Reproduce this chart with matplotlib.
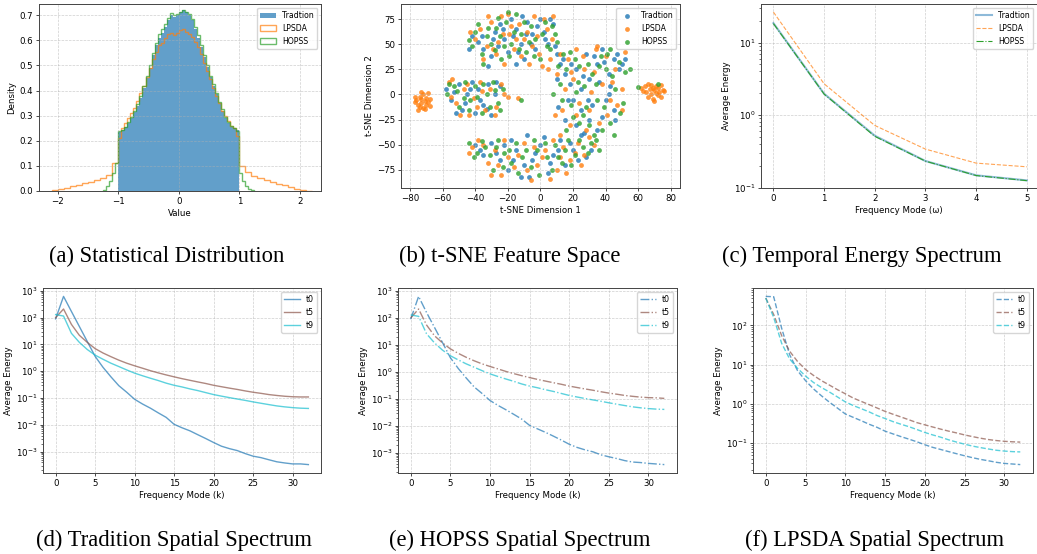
import numpy as np
import matplotlib
matplotlib.use("Agg")
from matplotlib import pyplot as plt
from matplotlib.patches import Patch

# ---- (a) histogram densities ----
core_edges = np.round(np.arange(-1.0, 1.0001, 0.05), 3)
trad_core = [0.235, 0.245, 0.255, 0.27, 0.29, 0.315, 0.34, 0.37, 0.41, 0.45,
             0.49, 0.54, 0.58, 0.61, 0.63, 0.655, 0.68, 0.70, 0.695, 0.70,
             0.715, 0.72, 0.715, 0.70, 0.68, 0.645, 0.61, 0.575, 0.535, 0.495,
             0.455, 0.42, 0.385, 0.35, 0.32, 0.29, 0.27, 0.255, 0.25, 0.245]
hopss_core = [0.24, 0.245, 0.255, 0.275, 0.295, 0.32, 0.345, 0.38, 0.42, 0.46,
              0.50, 0.55, 0.59, 0.625, 0.645, 0.665, 0.69, 0.71, 0.70, 0.705,
              0.715, 0.72, 0.715, 0.705, 0.685, 0.655, 0.62, 0.58, 0.54, 0.50,
              0.46, 0.425, 0.39, 0.355, 0.325, 0.295, 0.275, 0.26, 0.25, 0.24]
hopss_left = [0.005, 0.02, 0.04, 0.07, 0.11]
hopss_right = [0.07, 0.04, 0.02, 0.008, 0.002]
lpsda_core = [0.21, 0.25, 0.27, 0.29, 0.31, 0.33, 0.36, 0.39, 0.42, 0.455,
              0.49, 0.525, 0.555, 0.58, 0.59, 0.61, 0.625, 0.63, 0.62, 0.63,
              0.64, 0.645, 0.635, 0.625, 0.615, 0.595, 0.575, 0.545, 0.51, 0.48,
              0.445, 0.41, 0.38, 0.35, 0.32, 0.30, 0.28, 0.26, 0.25, 0.22]
lpsda_left = [0.003, 0.008, 0.013, 0.018, 0.024, 0.03, 0.037, 0.045, 0.053, 0.065, 0.11]
lpsda_right = [0.10, 0.075, 0.06, 0.05, 0.043, 0.035, 0.028, 0.022, 0.015, 0.009, 0.004, 0.001]

# ---- (b) t-SNE points ----
tsne_trad = [(-42, 58), (-38, 52), (-35, 45), (-30, 38), (-28, 62), (-25, 70), (-22, 55), (-20, 42),
             (-18, 75), (-15, 65), (-12, 50), (-10, 35), (-8, 72), (-5, 60), (-3, 45), (0, 75), (2, 62),
             (5, 50), (8, 70), (10, 40), (-32, 28), (-15, 30),
             (-44, 45), (-36, 58), (-26, 48), (-23, 65), (-17, 58), (-11, 78), (-6, 50), (-2, 68),
             (3, 55), (6, 75), (9, 48), (-14, 42), (-29, 55), (-9, 60),
             (12, 30), (15, 20), (18, 10), (22, 25), (25, 5), (28, 40), (30, 15), (35, 30), (38, 45),
             (42, 20), (45, 35), (48, 25), (20, -5), (25, -15), (32, -10), (40, -5), (45, -15),
             (15, -25), (22, -30), (30, -25), (35, -35), (42, 0), (50, 30),
             (14, 35), (17, -5), (19, 30), (26, 18), (29, -5), (33, 38), (36, 12), (39, 32), (43, 8),
             (47, 40), (52, 35), (11, -12), (27, -38), (38, -22), (46, -25), (10, 15),
             (-58, 5), (-55, -5), (-50, 10), (-48, -15), (-45, 0), (-42, 12), (-40, -18), (-38, 5),
             (-35, -10), (-32, 10), (-30, -20), (-28, 0), (-25, 8),
             (-53, 2), (-46, -8), (-43, 5), (-37, -5), (-33, -14), (-27, 12), (-52, -18),
             (-40, -50), (-35, -60), (-30, -48), (-25, -65), (-20, -75), (-15, -55), (-12, -82),
             (-8, -40), (-5, -65), (0, -50), (5, -78), (8, -60), (12, -45), (15, -70), (20, -55),
             (25, -40), (28, -62), (-18, -45),
             (-37, -55), (-27, -58), (-22, -50), (-17, -65), (-10, -70), (-3, -58), (2, -42),
             (6, -68), (11, -55), (18, -48), (23, -65), (31, -55), (-7, -82)]
tsne_lpsda = [(-76, -5), (-75, -10), (-74, -2), (-73, -8), (-72, -13), (-72, 0), (-71, -6), (-70, -3),
              (-70, -10), (-69, -7), (-69, 1), (-68, -4), (-74, -12), (-77, -7), (-71, -14), (-73, 2),
              (-75, -15), (-77, -2), (-68, -11), (-73, -4),
              (62, 6), (64, 8), (65, 2), (66, -2), (67, 5), (68, 9), (68, 0), (69, -4), (70, 4),
              (71, 8), (72, -1), (72, 6), (73, 2), (74, 9), (75, 4), (76, 3), (66, 10), (70, -6),
              (63, 3), (69, 6), (71, 1), (74, -2),
              (-40, 55), (-37, 65), (-33, 48), (-30, 72), (-27, 40), (-24, 78), (-22, 30), (-19, 60),
              (-16, 45), (-13, 70), (-10, 55), (-7, 30), (-4, 78), (-1, 40), (1, 28), (4, 65), (7, 55),
              (-26, 52), (-20, 80),
              (-43, 62), (-35, 35), (-29, 45), (-23, 60), (-18, 68), (-12, 38), (-8, 62), (-5, 48),
              (-2, 58), (2, 75), (6, 35), (8, 78), (-32, 78), (-15, 55),
              (10, 20), (13, -15), (17, 35), (20, 15), (24, -8), (27, 25), (31, 2), (34, 45), (38, 10),
              (41, -20), (44, 12), (47, -10), (50, -15), (52, 42), (18, -30), (28, -35), (9, -20),
              (5, 25), (-14, -3),
              (12, 40), (15, 5), (19, 22), (22, -20), (26, 38), (30, -15), (33, 22), (36, -28),
              (40, 38), (43, -5), (46, 25), (50, 5), (22, 45), (12, -40), (35, 48),
              (-56, 12), (-54, 15), (-52, -8), (-47, 5), (-44, -20), (-41, -3), (-37, 12), (-34, -15),
              (-31, 5), (-27, -12), (-24, 10), (-20, -2),
              (-55, -2), (-49, -20), (-45, 10), (-39, -12), (-36, 3), (-28, -20), (-22, 0),
              (-42, -52), (-38, -45), (-32, -68), (-28, -55), (-24, -80), (-20, -62), (-16, -72),
              (-10, -48), (-6, -85), (-2, -70), (3, -55), (6, -84), (10, -75), (14, -52), (18, -65),
              (23, -48), (27, -60), (30, -42),
              (-44, -58), (-35, -50), (-30, -80), (-26, -70), (-22, -45), (-14, -60), (-8, -75),
              (-4, -52), (1, -62), (8, -45), (12, -62), (16, -78), (21, -58), (25, -70), (33, -50)]
tsne_hopss = [(-44, 54), (-40, 62), (-36, 40), (-33, 58), (-30, 50), (-27, 66), (-24, 35), (-21, 72),
              (-18, 50), (-15, 80), (-12, 60), (-9, 42), (-6, 68), (-3, 55), (0, 35), (3, 72), (6, 45),
              (9, 60), (-20, 82), (-35, 30),
              (-42, 48), (-38, 70), (-32, 66), (-28, 44), (-25, 58), (-22, 48), (-16, 62), (-13, 45),
              (-10, 72), (-7, 52), (-4, 38), (1, 60), (4, 48), (7, 68), (10, 52), (-19, 38), (-26, 76),
              (12, 10), (14, 40), (16, 25), (19, -10), (21, 35), (23, 12), (26, -20), (29, 30), (32, 20),
              (35, -5), (37, 38), (40, 25), (43, 45), (46, 5), (49, -18), (52, 22), (55, 25), (16, -35),
              (24, -28), (33, -40), (43, -28), (8, 0),
              (11, 28), (13, -5), (18, 42), (22, 2), (24, 28), (27, 8), (30, -30), (34, 10), (36, 28),
              (39, -12), (41, 40), (44, 18), (48, 32), (51, -8), (20, -22), (28, -12), (38, -35),
              (45, -40),
              (-57, 0), (-53, 8), (-50, -12), (-46, 12), (-43, -5), (-40, 8), (-36, -18), (-33, 0),
              (-29, 12), (-26, -8), (-23, 5), (-12, -5),
              (-56, 10), (-51, 3), (-47, -3), (-44, -15), (-39, -2), (-35, 10), (-31, -12), (-28, 4),
              (-25, -15),
              (-44, -48), (-39, -58), (-34, -52), (-29, -75), (-26, -45), (-22, -58), (-18, -68),
              (-14, -78), (-9, -55), (-4, -45), (-1, -80), (4, -62), (9, -50), (13, -68), (17, -45),
              (21, -60), (26, -52), (31, -48), (36, -55),
              (-41, -62), (-36, -46), (-31, -60), (-27, -52), (-23, -72), (-19, -55), (-15, -48),
              (-11, -62), (-6, -72), (-2, -55), (3, -48), (7, -75), (11, -62), (15, -55), (19, -70),
              (24, -45), (29, -58), (34, -45),
              (60, 7), (72, 10)]

# ---- (c) temporal spectrum ----
omega = [0, 1, 2, 3, 4, 5]
temp_trad = [18.5, 1.97, 0.52, 0.233, 0.148, 0.126]
temp_lpsda = [26.3, 2.7, 0.72, 0.34, 0.218, 0.194]
temp_hopss = [18.3, 1.95, 0.51, 0.232, 0.147, 0.125]

# ---- (d)(e)(f) spatial spectra, k = 0..32 ----
k_modes = list(range(33))
trad_t0 = [90, 620, 170, 47, 13, 3.6, 1.4, 0.62, 0.29, 0.165, 0.09, 0.06, 0.042, 0.028, 0.019,
           0.0105, 0.0078, 0.006, 0.0043, 0.0031, 0.0022, 0.0016, 0.0013, 0.0011, 0.00085,
           0.00068, 0.0006, 0.0005, 0.00042, 0.00038, 0.00035, 0.00035, 0.00033]
trad_t5 = [100, 210, 56, 22, 12, 7, 4.8, 3.5, 2.6, 2.0, 1.6, 1.3, 1.05, 0.87, 0.73, 0.62, 0.53,
           0.46, 0.40, 0.35, 0.30, 0.265, 0.235, 0.21, 0.185, 0.165, 0.15, 0.135, 0.125, 0.117,
           0.112, 0.11, 0.11]
trad_t9 = [130, 115, 26, 12, 6.5, 4.0, 2.8, 2.0, 1.5, 1.12, 0.85, 0.68, 0.55, 0.45, 0.36, 0.30,
           0.26, 0.22, 0.19, 0.16, 0.135, 0.118, 0.104, 0.092, 0.082, 0.072, 0.064, 0.057, 0.051,
           0.047, 0.044, 0.042, 0.041]
hopss_t0 = [90, 630, 160, 45, 12.5, 3.4, 1.35, 0.6, 0.28, 0.16, 0.088, 0.058, 0.04, 0.027, 0.018,
            0.0105, 0.0078, 0.0058, 0.0042, 0.003, 0.0021, 0.0016, 0.0013, 0.0011, 0.00085,
            0.00072, 0.00062, 0.00052, 0.00046, 0.00044, 0.00041, 0.00039, 0.00037]
hopss_t5 = [100, 215, 55, 22, 12, 7.2, 4.9, 3.5, 2.6, 2.0, 1.6, 1.3, 1.05, 0.87, 0.73, 0.62, 0.53,
            0.46, 0.40, 0.35, 0.30, 0.265, 0.235, 0.21, 0.185, 0.165, 0.15, 0.135, 0.125, 0.117,
            0.112, 0.11, 0.105]
hopss_t9 = [130, 115, 26, 12, 6.5, 4.0, 2.8, 2.0, 1.5, 1.12, 0.85, 0.68, 0.55, 0.45, 0.36, 0.30,
            0.26, 0.22, 0.19, 0.16, 0.135, 0.118, 0.104, 0.092, 0.082, 0.072, 0.064, 0.057, 0.051,
            0.047, 0.044, 0.042, 0.041]
lpsda_t0 = [550, 540, 85, 18, 7, 3.9, 2.4, 1.6, 1.1, 0.78, 0.55, 0.45, 0.37, 0.30, 0.25, 0.20,
            0.17, 0.145, 0.125, 0.107, 0.09, 0.077, 0.068, 0.06, 0.053, 0.047, 0.042, 0.038, 0.035,
            0.032, 0.03, 0.029, 0.028]
lpsda_t5 = [500, 190, 55, 22, 12, 7.5, 5.3, 3.9, 3.0, 2.3, 1.8, 1.4, 1.15, 0.95, 0.78, 0.64, 0.54,
            0.46, 0.39, 0.33, 0.29, 0.255, 0.225, 0.2, 0.18, 0.16, 0.145, 0.132, 0.122, 0.115, 0.11,
            0.107, 0.105]
lpsda_t9 = [500, 160, 35, 14, 8, 5.1, 3.5, 2.6, 2.0, 1.5, 1.12, 0.9, 0.75, 0.62, 0.5, 0.42, 0.35,
            0.3, 0.26, 0.22, 0.185, 0.16, 0.14, 0.12, 0.105, 0.093, 0.083, 0.076, 0.07, 0.065, 0.062,
            0.06, 0.059]

methods = ["Tradtion", "LPSDA", "HOPSS"]
time_labels = ["t0", "t5", "t9"]
captions = ["(a) Statistical Distribution", "(b) t-SNE Feature Space", "(c) Temporal Energy Spectrum",
            "(d) Tradition Spatial Spectrum", "(e) HOPSS Spatial Spectrum", "(f) LPSDA Spatial Spectrum"]

plt.rcParams.update({
    "font.size": 6.2,
    "axes.linewidth": 0.7,
    "axes.edgecolor": "#444444",
    "xtick.major.size": 2.2,
    "ytick.major.size": 2.2,
    "xtick.minor.size": 1.2,
    "ytick.minor.size": 1.2,
    "xtick.major.width": 0.5,
    "ytick.major.width": 0.5,
    "ytick.minor.width": 0.4,
    "xtick.major.pad": 2.0,
    "ytick.major.pad": 2.0,
    "axes.labelpad": 2.2,
    "lines.linewidth": 0.8,
    "legend.fontsize": 5.6,
})

W, H = 1037, 554
fig = plt.figure(figsize=(W / 100, H / 100), dpi=100)


def px_axes(x0, y0, x1, y1):
    return fig.add_axes([x0 / W, 1 - y1 / H, (x1 - x0) / W, (y1 - y0) / H])


def style_grid(ax):
    ax.grid(True, linestyle="--", linewidth=0.5, alpha=0.6)


# (a)
ax = px_axes(39, 4, 321, 191)
ax.stairs(trad_core, core_edges, fill=True, color="tab:blue", alpha=0.7)
lp_edges = np.concatenate([np.round(np.arange(-2.1, -0.999, 0.1), 3), core_edges[1:],
                           np.round(np.arange(1.1, 2.2001, 0.1), 3)])
lp_vals = lpsda_left + lpsda_core + lpsda_right
ax.stairs(lp_vals, lp_edges, color="tab:orange", alpha=0.7, linewidth=1.0)
hp_edges = np.concatenate([np.round(np.arange(-1.25, -0.999, 0.05), 3), core_edges[1:],
                           np.round(np.arange(1.05, 1.2501, 0.05), 3)])
hp_vals = hopss_left + hopss_core + hopss_right
ax.stairs(hp_vals, hp_edges, color="tab:green", alpha=0.7, linewidth=1.0)
ax.set_xlim(-2.31, 2.35)
ax.set_ylim(0, 0.745)
ax.set_xlabel("Value")
ax.set_ylabel("Density")
style_grid(ax)
handles = [Patch(facecolor="tab:blue", alpha=0.7),
           Patch(facecolor="none", edgecolor="tab:orange", alpha=0.7, linewidth=1.0),
           Patch(facecolor="none", edgecolor="tab:green", alpha=0.7, linewidth=1.0)]
ax.legend(handles, methods, loc="upper right")

# (b)
ax = px_axes(401, 4, 680, 188)
for pts, col, name in zip([tsne_trad, tsne_lpsda, tsne_hopss],
                          ["tab:blue", "tab:orange", "tab:green"], methods):
    arr = np.array(pts)
    ax.scatter(arr[:, 0], arr[:, 1], s=12, color=col, alpha=0.8, linewidths=0, label=name)
ax.set_xlim(-85.5, 85.7)
ax.set_ylim(-93.3, 90.3)
ax.set_xticks([-80, -60, -40, -20, 0, 20, 40, 60, 80])
ax.set_yticks([-75, -50, -25, 0, 25, 50, 75])
ax.set_xlabel("t-SNE Dimension 1")
ax.set_ylabel("t-SNE Dimension 2")
style_grid(ax)
ax.legend(loc="upper right")

# (c)
ax = px_axes(761, 4, 1037, 188)
ax.plot(omega, temp_trad, color="tab:blue", alpha=0.5, linewidth=1.5, label=methods[0])
ax.plot(omega, temp_lpsda, color="tab:orange", alpha=0.7, linestyle="--", label=methods[1])
ax.plot(omega, temp_hopss, color="tab:green", linestyle="-.", label=methods[2])
ax.set_yscale("log")
ax.set_xlim(-0.245, 5.2)
ax.set_ylim(0.099, 34)
ax.set_xlabel("Frequency Mode (\u03c9)")
ax.set_ylabel("Average Energy")
style_grid(ax)
ax.legend(loc="upper right")

# (d)(e)(f)
spec_sets = [
    ((43, 288, 321, 473), [trad_t0, trad_t5, trad_t9], "-"),
    ((398, 288, 677, 473), [hopss_t0, hopss_t5, hopss_t9], "-."),
    ((753, 288, 1033, 473), [lpsda_t0, lpsda_t5, lpsda_t9], "--"),
]
for box, series, ls in spec_sets:
    ax = px_axes(*box)
    for vals, col, name in zip(series, ["tab:blue", "tab:brown", "tab:cyan"], time_labels):
        ax.plot(k_modes, vals, color=col, alpha=0.7, linestyle=ls, linewidth=1.0, label=name)
    ax.set_yscale("log")
    ax.set_xlabel("Frequency Mode (k)")
    ax.set_ylabel("Average Energy")
    style_grid(ax)
    ax.legend(loc="upper right")

# captions
cap_pos = [(167, 256), (510, 256), (862, 256), (174, 540), (520, 540), (875, 540)]
for text, (cx, cy) in zip(captions, cap_pos):
    fig.text(cx / W, 1 - cy / H, text, ha="center", va="center",
             family="Liberation Serif", fontsize=16.3)

fig.savefig("out.png", dpi=100)
